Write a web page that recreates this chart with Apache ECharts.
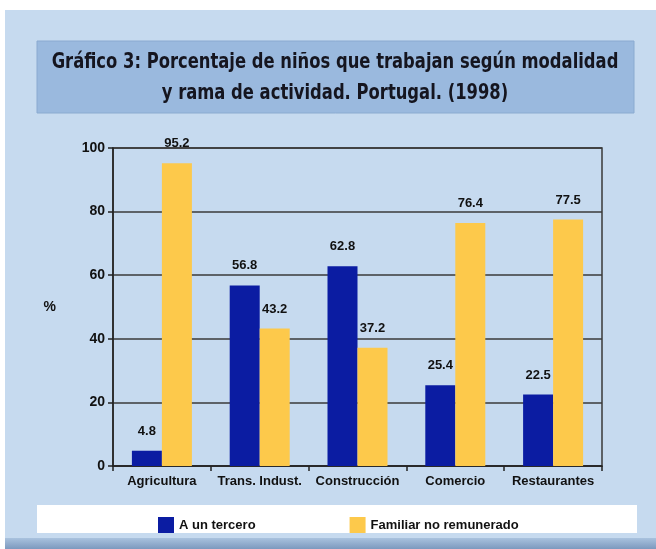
<!DOCTYPE html>
<html>
<head>
<meta charset="utf-8">
<script src="https://cdn.jsdelivr.net/npm/echarts@6/dist/echarts.min.js"></script>
<style>
  html, body { margin: 0; padding: 0; background: #ffffff; }
  #chart { width: 656px; height: 549px; }
</style>
</head>
<body>
<div id="chart"></div>
<script>
// datos del gráfico
const categorias = ["Agricultura", "Trans. Indust.", "Construcción", "Comercio", "Restaurantes"];
const aUnTercero = [4.8, 56.8, 62.8, 25.4, 22.5];
const familiarNoRemunerado = [95.2, 43.2, 37.2, 76.4, 77.5];
const serieNombres = ["A un tercero", "Familiar no remunerado"];
const yTicks = { min: 0, max: 100, interval: 20 };

const titulo = "Gráfico 3: Porcentaje de niños que trabajan según modalidad\ny rama de actividad. Portugal. (1998)";

const chart = echarts.init(document.getElementById("chart"));

const etiqueta = {
  show: true,
  position: "top",
  distance: 13,
  color: "#111",
  fontFamily: "Liberation Sans, Arial",
  fontWeight: "bold",
  fontSize: 13,
};

const option = {
  backgroundColor: "#ffffff",
  animation: false,
  graphic: [
    // panel de fondo
    {
      type: "rect",
      z: -10,
      shape: { x: 5, y: 10, width: 651, height: 539 },
      style: { fill: "#c6daef" },
    },
    {
      type: "rect",
      z: -9,
      shape: { x: 5, y: 538, width: 651, height: 11 },
      style: {
        fill: new echarts.graphic.LinearGradient(0, 0, 0, 1, [
          { offset: 0, color: "#a9c2de" },
          { offset: 1, color: "#7c99be" },
        ]),
      },
    },
    // caja del título
    {
      type: "rect",
      z: -8,
      shape: { x: 37, y: 41, width: 597, height: 72 },
      style: { fill: "#9ab9de", stroke: "#8aaad0", lineWidth: 1 },
    },
    // título (estrechado con scaleX para imitar la fuente condensada)
    {
      type: "text",
      z: 10,
      x: 335,
      y: 78,
      scaleX: 0.78,
      scaleY: 1,
      style: {
        x: 0,
        y: 0,
        text: titulo,
        fill: "#15151f",
        font: "bold 21px 'DejaVu Sans', sans-serif",
        align: "center",
        verticalAlign: "middle",
        lineHeight: 31,
      },
    },
    // caja de la leyenda
    {
      type: "rect",
      z: -8,
      shape: { x: 37, y: 505, width: 600, height: 28 },
      style: { fill: "#ffffff" },
    },
  ],
  legend: {
    data: serieNombres,
    left: 153,
    top: 512,
    itemWidth: 16,
    itemHeight: 16,
    itemGap: 94,
    icon: "rect",
    textStyle: {
      color: "#111",
      fontFamily: "Liberation Sans, Arial",
      fontWeight: "bold",
      fontSize: 13,
    },
  },
  grid: {
    left: 113,
    right: 54,
    top: 148,
    bottom: 83,
    show: true,
    borderColor: "#3a3a3a",
    borderWidth: 1.5,
    backgroundColor: "transparent",
  },
  xAxis: {
    type: "category",
    data: categorias,
    axisLine: { lineStyle: { color: "#222", width: 1.5 } },
    axisTick: { show: true, length: 5, lineStyle: { color: "#222", width: 1.5 } },
    axisLabel: {
      color: "#111",
      fontFamily: "Liberation Sans, Arial",
      fontWeight: "bold",
      fontSize: 13,
      margin: 9,
      interval: 0,
    },
  },
  yAxis: {
    type: "value",
    min: yTicks.min,
    max: yTicks.max,
    interval: yTicks.interval,
    name: "%",
    nameLocation: "middle",
    nameRotate: 0,
    nameGap: 57,
    nameTextStyle: {
      color: "#111",
      fontFamily: "Liberation Sans, Arial",
      fontWeight: "bold",
      fontSize: 14,
    },
    axisLine: { show: true, lineStyle: { color: "#222", width: 1.5 } },
    axisTick: { show: true, length: 5, lineStyle: { color: "#222", width: 1.5 } },
    axisLabel: {
      color: "#111",
      fontFamily: "Liberation Sans, Arial",
      fontWeight: "bold",
      fontSize: 14,
      margin: 8,
    },
    splitLine: { show: true, lineStyle: { color: "#3a3a3a", width: 1.5 } },
  },
  series: [
    {
      name: serieNombres[0],
      type: "bar",
      data: aUnTercero,
      barWidth: 30,
      barGap: "0%",
      itemStyle: { color: "#0b1ca2" },
      label: etiqueta,
    },
    {
      name: serieNombres[1],
      type: "bar",
      data: familiarNoRemunerado,
      barWidth: 30,
      itemStyle: { color: "#fdc94b" },
      label: etiqueta,
    },
  ],
};

chart.setOption(option);
</script>
</body>
</html>
